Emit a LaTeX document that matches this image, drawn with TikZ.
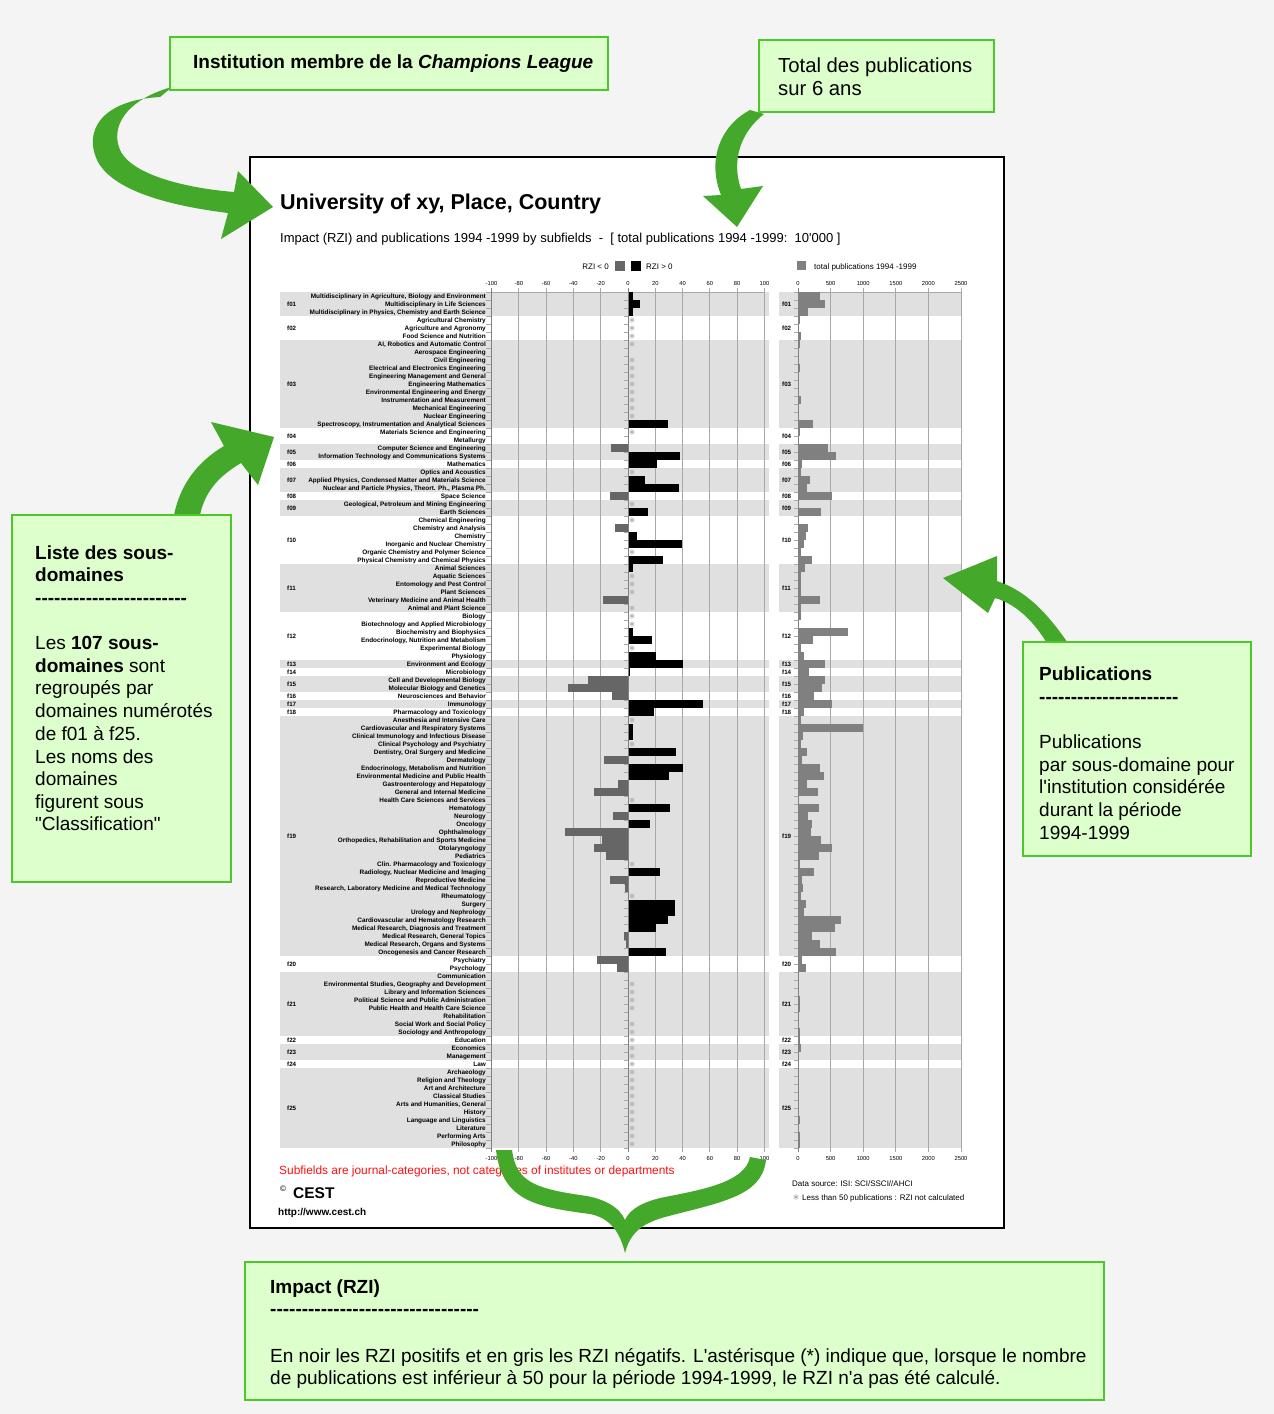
\documentclass[tikz,border=0pt]{standalone}
\usepackage{fontspec}
\setmainfont{Liberation Sans}[Ligatures=TeXOff]
\definecolor{cgreen}{HTML}{44A82A}
\definecolor{cbox}{HTML}{DDFFCC}
\definecolor{cboxline}{HTML}{4DC82B}
\definecolor{cband}{HTML}{E0E0E0}
\definecolor{cgrid}{HTML}{A8A8A8}
\definecolor{cneg}{HTML}{666666}
\definecolor{cpub}{HTML}{808080}
\definecolor{cbg}{HTML}{F4F4F4}
\definecolor{cred}{HTML}{FF1010}
\newcommand\myrow[2]{\node[lab] (r#1) at (486,{298+8*(#1-1)}) {#2};}
\newcommand\mypos[2]{\fill[black] (628,{292+8*(#1-1)}) rectangle ({628+1.365*#2},{300+8*(#1-1)});}
\newcommand\myneg[2]{\fill[cneg] ({628-1.365*#2},{292+8*(#1-1)}) rectangle (628,{300+8*(#1-1)});}
\newcommand\mystarat[2]{\draw[astkline] (#1,#2) +(0,-2.8) -- +(0,2.8) +(-2.4,-1.4) -- +(2.4,1.4) +(-2.4,1.4) -- +(2.4,-1.4);}
\newcommand\myst[1]{\mystarat{632}{{296+8*(#1-1)}}}
\newcommand\mypub[2]{\fill[cpub] (798,{292+8*(#1-1)}) rectangle ({798+0.0652*#2},{300+8*(#1-1)});}
\newcommand\mydom[4]{%
  \ifnum#4=1
    \fill[cband] (280,{292+8*(#2-1)}) rectangle (769,{300+8*(#3-1)});
    \fill[cband] (779,{292+8*(#2-1)}) rectangle (961,{300+8*(#3-1)});
  \fi
  \node[dom] (dl#1) at (287,{290+4*(#2+#3)}) {#1};
  \node[dom] (dr#1) at (782,{290+4*(#2+#3)}) {#1};
}
\newcommand\mydashes[1]{\foreach \k in {1,...,#1}{-}}
\begin{document}
\begin{tikzpicture}[x=1pt,y=-1pt,
  lab/.style={font=\fontsize{6.4}{7}\selectfont\bfseries, anchor=base east, inner sep=0pt},
  dom/.style={font=\fontsize{6.2}{7}\selectfont\bfseries, anchor=base west, inner sep=0pt},
  axl/.style={font=\fontsize{5.8}{6}\selectfont, anchor=base, inner sep=0pt},
  astkline/.style={draw=gray!60, line width=0.8pt},
  grid/.style={draw=cgrid, line width=0.9pt},
  tck/.style={draw=cgrid, line width=0.7pt},
  callout/.style={draw=cboxline, fill=cbox, line width=1.8pt},
  arrowfill/.style={fill=cgreen},
  ctext/.style={font=\fontsize{19}{22.7}\selectfont, anchor=base west, inner sep=0pt},
  small/.style={font=\fontsize{8}{9}\selectfont, anchor=base west, inner sep=0pt}]
\useasboundingbox (0,0) rectangle (1274,1414);
\fill[cbg] (0,0) rectangle (1274,1414);
% chart frame
\draw[line width=2pt, fill=white] (250,157) rectangle (1004,1228);
\node[font=\fontsize{21.5}{24}\selectfont\bfseries, anchor=base west, inner sep=0pt] (title) at (280,209) {University of xy, Place, Country};
\node[font=\fontsize{13}{15}\selectfont, anchor=base west, inner sep=0pt] (subtitle) at (280,242) {Impact (RZI) and publications 1994 -1999 by subfields~~-~~[ total publications 1994 -1999:~~10'000 ]};
% legends
\node[small, anchor=base east] (lgneg) at (609,269) {RZI < 0};
\fill[cneg] (615,261) rectangle (625,271);
\fill[black] (631,261) rectangle (641,271);
\node[small] (lgpos) at (646,269) {RZI > 0};
\fill[cpub] (797,261) rectangle (806,270);
\node[small] (lgpub) at (814,269) {total publications 1994 -1999};
% bands and domain labels
\mydom{f01}{1}{3}{1}
\mydom{f02}{4}{6}{0}
\mydom{f03}{7}{17}{1}
\mydom{f04}{18}{19}{0}
\mydom{f05}{20}{21}{1}
\mydom{f06}{22}{22}{0}
\mydom{f07}{23}{25}{1}
\mydom{f08}{26}{26}{0}
\mydom{f09}{27}{28}{1}
\mydom{f10}{29}{34}{0}
\mydom{f11}{35}{40}{1}
\mydom{f12}{41}{46}{0}
\mydom{f13}{47}{47}{1}
\mydom{f14}{48}{48}{0}
\mydom{f15}{49}{50}{1}
\mydom{f16}{51}{51}{0}
\mydom{f17}{52}{52}{1}
\mydom{f18}{53}{53}{0}
\mydom{f19}{54}{83}{1}
\mydom{f20}{84}{85}{0}
\mydom{f21}{86}{93}{1}
\mydom{f22}{94}{94}{0}
\mydom{f23}{95}{96}{1}
\mydom{f24}{97}{97}{0}
\mydom{f25}{98}{107}{1}
% grid
\foreach \v in {-100,-80,...,100} \draw[grid] ({628+1.365*\v},288) -- ({628+1.365*\v},1152);
\foreach \v in {0,500,...,2500} \draw[grid] ({798+0.0652*\v},288) -- ({798+0.0652*\v},1152);
\draw[grid] (491,292) -- (764.5,292);
\draw[grid] (798,292) -- (961,292);
\foreach \k in {0,...,107} {
  \draw[tck] (486,{292+8*\k}) -- (491,{292+8*\k});
  \draw[tck] (624,{292+8*\k}) -- (628,{292+8*\k});
  \draw[tck] (794,{292+8*\k}) -- (798,{292+8*\k});
}
\foreach \v [count=\c] in {-100,-80,...,100} {
  \node[axl] (ta\c) at ({628+1.365*\v},285) {\v};
  \node[axl] (ba\c) at ({628+1.365*\v},1160) {\v};
}
\foreach \v [count=\c] in {0,500,...,2500} {
  \node[axl] (tp\c) at ({798+0.0652*\v},285) {\v};
  \node[axl] (bp\c) at ({798+0.0652*\v},1160) {\v};
}
% RZI bars
\mypos{1}{3.5}\mypos{2}{9}\mypos{3}{3.5}\mypos{17}{29}\mypos{21}{38}\mypos{22}{21}
\mypos{24}{12.4}\mypos{25}{37}\mypos{28}{14.6}\mypos{31}{6.6}\mypos{32}{39.5}\mypos{34}{25.6}
\mypos{35}{3.7}\mypos{43}{3.7}\mypos{44}{17.6}\mypos{46}{20.5}\mypos{47}{40}\mypos{48}{1.5}
\mypos{52}{55}\mypos{53}{19}\mypos{55}{3.7}\mypos{56}{3.7}\mypos{58}{35}\mypos{60}{40}
\mypos{61}{30}\mypos{65}{30.7}\mypos{67}{16}\mypos{73}{23.4}\mypos{77}{34.4}\mypos{78}{34.4}
\mypos{79}{29}\mypos{80}{20.5}\mypos{83}{27.8}
\myneg{20}{12.4}\myneg{26}{13}\myneg{30}{9.5}\myneg{39}{18.3}\myneg{49}{29.3}\myneg{50}{44}
\myneg{51}{11.7}\myneg{59}{17.6}\myneg{62}{7.3}\myneg{63}{24.9}\myneg{66}{11}\myneg{68}{46}
\myneg{69}{19}\myneg{70}{25}\myneg{71}{16}\myneg{74}{13}\myneg{75}{2.2}\myneg{81}{3}
\myneg{82}{1.5}\myneg{84}{22.7}\myneg{85}{8}
% stars (fewer than 50 publications)
\foreach \i in {4,5,6,7,9,10,11,12,13,14,15,16,18,23,27,29,33,36,37,38,40,41,42,45,54,57,64,72,76,87,88,89,90,92,93,94,95,96,97,98,99,100,101,102,103,104,105,106,107} {\myst{\i}}
% publication bars
\foreach \i/\p in {1/340,2/418,3/155,4/30,5/10,6/46,7/30,9/10,10/30,11/10,12/10,13/10,14/46,15/10,16/10,17/232,18/30,20/464,21/588,22/62,23/46,24/186,25/139,26/526,27/10,28/356,29/10,30/155,31/124,32/93,33/46,34/217,35/108,36/46,37/40,38/40,39/340,40/40,41/45,42/10,43/773,44/232,45/45,46/93,47/418,48/170,49/418,50/371,51/247,52/526,53/93,54/46,55/990,56/77,57/46,58/139,59/62,60/340,61/402,62/139,63/309,64/15,65/325,66/155,67/217,68/201,69/356,70/526,71/325,72/30,73/247,74/62,75/77,76/46,77/124,78/93,79/665,80/572,81/217,82/340,83/588,84/62,85/124,87/10,88/10,89/30,90/30,92/10,93/30,94/25,95/46,96/10,98/10,99/10,100/10,101/10,102/10,103/10,104/30,105/10,106/30,107/30} {\mypub{\i}{\p}}
% axes
\draw[grid, draw=gray] (491,288) -- (491,1152);
\draw[grid, draw=gray] (628,288) -- (628,1152);
\draw[grid, draw=gray] (798,288) -- (798,1152);
% row labels
\myrow{1}{Multidisciplinary in Agriculture, Biology and Environment}
\myrow{2}{Multidisciplinary in Life Sciences}
\myrow{3}{Multidisciplinary in Physics, Chemistry and Earth Science}
\myrow{4}{Agricultural Chemistry}
\myrow{5}{Agriculture and Agronomy}
\myrow{6}{Food Science and Nutrition}
\myrow{7}{AI, Robotics and Automatic Control}
\myrow{8}{Aerospace Engineering}
\myrow{9}{Civil Engineering}
\myrow{10}{Electrical and Electronics Engineering}
\myrow{11}{Engineering Management and General}
\myrow{12}{Engineering Mathematics}
\myrow{13}{Environmental Engineering and Energy}
\myrow{14}{Instrumentation and Measurement}
\myrow{15}{Mechanical Engineering}
\myrow{16}{Nuclear Engineering}
\myrow{17}{Spectroscopy, Instrumentation and Analytical Sciences}
\myrow{18}{Materials Science and Engineering}
\myrow{19}{Metallurgy}
\myrow{20}{Computer Science and Engineering}
\myrow{21}{Information Technology and Communications Systems}
\myrow{22}{Mathematics}
\myrow{23}{Optics and Acoustics}
\myrow{24}{Applied Physics, Condensed Matter and Materials Science}
\myrow{25}{Nuclear and Particle Physics, Theort. Ph., Plasma Ph.}
\myrow{26}{Space Science}
\myrow{27}{Geological, Petroleum and Mining Engineering}
\myrow{28}{Earth Sciences}
\myrow{29}{Chemical Engineering}
\myrow{30}{Chemistry and Analysis}
\myrow{31}{Chemistry}
\myrow{32}{Inorganic and Nuclear Chemistry}
\myrow{33}{Organic Chemistry and Polymer Science}
\myrow{34}{Physical Chemistry and Chemical Physics}
\myrow{35}{Animal Sciences}
\myrow{36}{Aquatic Sciences}
\myrow{37}{Entomology and Pest Control}
\myrow{38}{Plant Sciences}
\myrow{39}{Veterinary Medicine and Animal Health}
\myrow{40}{Animal and Plant Science}
\myrow{41}{Biology}
\myrow{42}{Biotechnology and Applied Microbiology}
\myrow{43}{Biochemistry and Biophysics}
\myrow{44}{Endocrinology, Nutrition and Metabolism}
\myrow{45}{Experimental Biology}
\myrow{46}{Physiology}
\myrow{47}{Environment and Ecology}
\myrow{48}{Microbiology}
\myrow{49}{Cell and Developmental Biology}
\myrow{50}{Molecular Biology and Genetics}
\myrow{51}{Neurosciences and Behavior}
\myrow{52}{Immunology}
\myrow{53}{Pharmacology and Toxicology}
\myrow{54}{Anesthesia and Intensive Care}
\myrow{55}{Cardiovascular and Respiratory Systems}
\myrow{56}{Clinical Immunology and Infectious Disease}
\myrow{57}{Clinical Psychology and Psychiatry}
\myrow{58}{Dentistry, Oral Surgery and Medicine}
\myrow{59}{Dermatology}
\myrow{60}{Endocrinology, Metabolism and Nutrition}
\myrow{61}{Environmental Medicine and Public Health}
\myrow{62}{Gastroenterology and Hepatology}
\myrow{63}{General and Internal Medicine}
\myrow{64}{Health Care Sciences and Services}
\myrow{65}{Hematology}
\myrow{66}{Neurology}
\myrow{67}{Oncology}
\myrow{68}{Ophthalmology}
\myrow{69}{Orthopedics, Rehabilitation and Sports Medicine}
\myrow{70}{Otolaryngology}
\myrow{71}{Pediatrics}
\myrow{72}{Clin. Pharmacology and Toxicology}
\myrow{73}{Radiology, Nuclear Medicine and Imaging}
\myrow{74}{Reproductive Medicine}
\myrow{75}{Research, Laboratory Medicine and Medical Technology}
\myrow{76}{Rheumatology}
\myrow{77}{Surgery}
\myrow{78}{Urology and Nephrology}
\myrow{79}{Cardiovascular and Hematology Research}
\myrow{80}{Medical Research, Diagnosis and Treatment}
\myrow{81}{Medical Research, General Topics}
\myrow{82}{Medical Research, Organs and Systems}
\myrow{83}{Oncogenesis and Cancer Research}
\myrow{84}{Psychiatry}
\myrow{85}{Psychology}
\myrow{86}{Communication}
\myrow{87}{Environmental Studies, Geography and Development}
\myrow{88}{Library and Information Sciences}
\myrow{89}{Political Science and Public Administration}
\myrow{90}{Public Health and Health Care Science}
\myrow{91}{Rehabilitation}
\myrow{92}{Social Work and Social Policy}
\myrow{93}{Sociology and Anthropology}
\myrow{94}{Education}
\myrow{95}{Economics}
\myrow{96}{Management}
\myrow{97}{Law}
\myrow{98}{Archaeology}
\myrow{99}{Religion and Theology}
\myrow{100}{Art and Architecture}
\myrow{101}{Classical Studies}
\myrow{102}{Arts and Humanities, General}
\myrow{103}{History}
\myrow{104}{Language and Linguistics}
\myrow{105}{Literature}
\myrow{106}{Performing Arts}
\myrow{107}{Philosophy}
% footer
\node[font=\fontsize{11.9}{13}\selectfont, text=cred, anchor=base west, inner sep=0pt] (note) at (279,1174) {Subfields are journal-categories, not categories of institutes or departments};
\node[font=\fontsize{8}{9}\selectfont, anchor=base west, inner sep=0pt] (copy) at (280,1191) {©};
\node[font=\fontsize{15.5}{17}\selectfont\bfseries, anchor=base west, inner sep=0pt] (cest) at (293,1198) {CEST};
\node[font=\fontsize{10}{11}\selectfont\bfseries, anchor=base west, inner sep=0pt] (url) at (278,1215) {http://www.cest.ch};
\node[small] (src) at (792,1186) {Data source: ISI: SCI/SSCI//AHCI};
\mystarat{796}{1197}
\node[small] (less) at (802,1200) {Less than 50 publications : RZI not calculated};
% green arrows
\fill[arrowfill] (160,97) .. controls (103,100) and (82,130) .. (98,162) .. controls (116,194) and (180,207) .. (228,213) -- (221,239) -- (273,207) -- (238,171) -- (234,192) .. controls (185,188) and (134,175) .. (121,152) .. controls (109,128) and (125,100) .. (172,87) -- cycle;
\fill[arrowfill] (750,110) -- (764,114) .. controls (741,132) and (731,160) .. (741,189) -- (763,186) -- (737,227) -- (703,196) -- (721,195) .. controls (707,160) and (720,126) .. (750,110) -- cycle;
\fill[arrowfill] (172,528) .. controls (176,490) and (194,464) .. (224,446) -- (211,422) -- (274,437) -- (258,485) -- (241,463) .. controls (216,478) and (201,495) .. (198,528) -- cycle;
\fill[arrowfill] (1070,646) .. controls (1046,611) and (1026,591) .. (997,581) -- (997,556) -- (943,578) -- (988,613) -- (995,598) .. controls (1019,605) and (1037,625) .. (1051,650) -- cycle;
\fill[arrowfill] (496,1150) .. controls (502,1202) and (538,1207) .. (590,1214) .. controls (610,1218) and (620,1232) .. (625,1253) .. controls (630,1234) and (640,1224) .. (665,1217) .. controls (722,1202) and (762,1196) .. (766,1160) -- (750,1157) .. controls (745,1183) and (700,1190) .. (660,1198) .. controls (636,1204) and (628,1213) .. (625,1220) .. controls (620,1208) and (605,1198) .. (580,1195) .. controls (532,1188) and (516,1180) .. (512,1150) -- cycle;
% callout boxes
\draw[callout] (170,37) rectangle (608,90);
\node[ctext] (t1) at (193,68) {\textbf{Institution membre de la \textit{Champions League}}};
\draw[callout] (759,40) rectangle (994,112);
\node[ctext, font=\fontsize{20.3}{23}\selectfont] (t2a) at (778,72) {Total des publications};
\node[ctext, font=\fontsize{20.3}{23}\selectfont] (t2b) at (778,95) {sur 6 ans};
\draw[callout] (12,515) rectangle (231,882);
\node[ctext] (t3a) at (35,559) {\textbf{Liste des sous-}};
\node[ctext] (t3b) at (35,581) {\textbf{domaines}};
\node[ctext] (t3c) at (35,604) {\textbf{\mydashes{24}}};
\node[ctext] (t3d) at (35,649) {Les \textbf{107 sous-}};
\node[ctext] (t3e) at (35,672) {\textbf{domaines} sont};
\node[ctext] (t3f) at (35,694) {regroupés par};
\node[ctext] (t3g) at (35,717) {domaines numérotés};
\node[ctext] (t3h) at (35,740) {de f01 à f25.};
\node[ctext] (t3i) at (35,763) {Les noms des};
\node[ctext] (t3j) at (35,785) {domaines};
\node[ctext] (t3k) at (35,808) {figurent sous};
\node[ctext] (t3l) at (35,830) {"Classification"};
\draw[callout] (1023,642) rectangle (1251,856);
\node[ctext] (t4a) at (1039,680) {\textbf{Publications}};
\node[ctext] (t4b) at (1039,703) {\textbf{\mydashes{22}}};
\node[ctext] (t4c) at (1039,748) {Publications};
\node[ctext] (t4d) at (1039,771) {par sous-domaine pour};
\node[ctext] (t4e) at (1039,793) {l'institution considérée};
\node[ctext] (t4f) at (1039,816) {durant la période};
\node[ctext] (t4g) at (1039,839) {1994-1999};
\draw[callout] (245,1262) rectangle (1104,1400);
\node[ctext] (t5a) at (270,1293) {\textbf{Impact (RZI)}};
\node[ctext] (t5b) at (270,1315) {\textbf{\mydashes{33}}};
\node[ctext] (t5c) at (270,1362) {En noir les RZI positifs et en gris les RZI négatifs. L'astérisque (*) indique que, lorsque le nombre};
\node[ctext] (t5d) at (270,1384) {de publications est inférieur à 50 pour la période 1994-1999, le RZI n'a pas été calculé.};
\end{tikzpicture}
\end{document}
